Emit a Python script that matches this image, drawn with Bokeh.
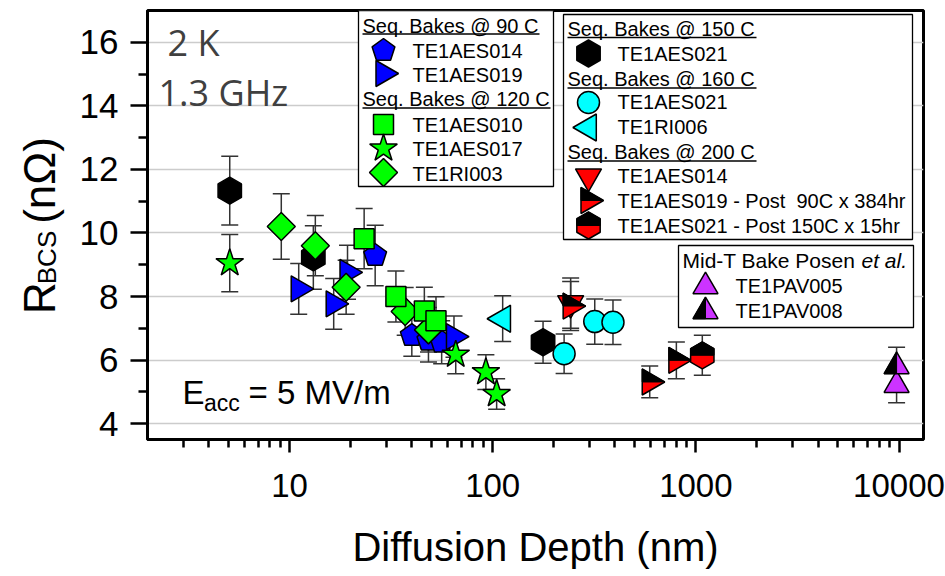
import math
from bokeh.plotting import figure
from bokeh.layouts import row
from bokeh.models import (Range1d, FixedTicker, CustomJSTickFormatter, Whisker, TeeHead,
                          ColumnDataSource, Label, BoxAnnotation)
from bokeh.embed import file_html
from bokeh.resources import INLINE

# ---------------- data ----------------
# Seq. Bakes @ 90 C
x_90_014 = [26.4, 40.0, 48.3, 56.1]
y_90_014 = [9.29, 6.77, 6.62, 6.56]
e_90_014 = [0.95, 0.65, 0.68, 0.68]

x_90_019 = [11.1, 16.5, 19.3, 64.5]
y_90_019 = [8.24, 7.77, 8.76, 6.74]
e_90_019 = [0.80, 0.80, 0.85, 0.65]

# Seq. Bakes @ 120 C
x_120_010 = [23.3, 33.4, 46.1, 52.6]
y_120_010 = [9.82, 8.00, 7.54, 7.24]
e_120_010 = [0.95, 0.80, 0.75, 0.75]

x_120_017 = [5.08, 65.8, 92.6, 104.6]
y_120_017 = [9.05, 6.17, 5.62, 4.93]
e_120_017 = [0.90, 0.60, 0.55, 0.48]

x_120_ri003 = [9.11, 13.4, 19.0, 37.1, 48.3]
y_120_ri003 = [10.20, 9.60, 8.29, 7.53, 6.95]
e_120_ri003 = [1.03, 0.95, 0.85, 0.75, 0.70]

# Seq. Bakes @ 150 C
x_150_021 = [5.08, 13.1, 177.0]
y_150_021 = [11.33, 9.23, 6.56]
e_150_021 = [1.08, 1.00, 0.66]

# Seq. Bakes @ 160 C
x_160_021 = [224.7, 318.0, 391.0]
y_160_021 = [6.20, 7.21, 7.19]
e_160_021 = [0.62, 0.71, 0.70]

x_160_ri006 = [112.0]
y_160_ri006 = [7.30]
e_160_ri006 = [0.72]

# Seq. Bakes @ 200 C
x_200_014 = [242.0]
y_200_014 = [7.79]
e_200_014 = [0.79]

x_200_019 = [242.0, 593.0, 802.0]
y_200_019 = [7.70, 5.31, 5.99]
e_200_019 = [0.77, 0.50, 0.58]

x_200_021 = [1076.0]
y_200_021 = [6.15]
e_200_021 = [0.63]

# Mid-T bake (Posen et al.)
x_pav005 = [9730.0]
y_pav005 = [5.21]
e_pav005 = [0.55]

x_pav008 = [9730.0]
y_pav008 = [5.80]
e_pav008 = [0.60]

y_ticks = [4, 6, 8, 10, 12, 14, 16]
y_minor = [5, 7, 9, 11, 13, 15]
x_ticks = [10, 100, 1000, 10000]
x_minor = [m * d for d in (1, 10, 100, 1000) for m in range(3 if d == 1 else 2, 10)]

# ---------------- geometry (page pixels) ----------------
TOTAL_W, TOTAL_H = 945, 576
LW = 70                                   # width of the strip holding the y title
FL, FR, FT, FB = 147, 923, 10, 439        # frame edges
XMIN, XMAX = 2.0, 13200.0
YMIN, YMAX = 3.5, 17.0
LXMIN = math.log10(XMIN)
PPD = (FR - FL) / (math.log10(XMAX) - LXMIN)   # px per decade
PPU = (FB - FT) / (YMAX - YMIN)                 # px per unit


def dx(px):
    return 10 ** (LXMIN + (px - FL) / PPD)


def dy(py):
    return YMIN + (FB - py) / PPU


FONT = "Liberation Sans"

p = figure(width=TOTAL_W - LW, height=TOTAL_H, x_axis_type="log",
           x_range=Range1d(XMIN, XMAX), y_range=Range1d(YMIN, YMAX),
           output_backend="svg", toolbar_location=None,
           min_border_left=FL - LW, min_border_right=TOTAL_W - FR,
           min_border_top=FT, min_border_bottom=TOTAL_H - FB)
p.title.visible = False
p.background_fill_color = "white"
p.border_fill_color = "white"
p.outline_line_color = "black"
p.outline_line_width = 3
p.outline_line_alpha = 1.0

ax = p.xaxis[0]
ay = p.yaxis[0]
for a in (ax, ay):
    a.axis_line_width = 3
    a.axis_line_color = "black"
    a.major_tick_line_width = 2.5
    a.minor_tick_line_width = 2.5
    a.major_tick_line_color = "black"
    a.minor_tick_line_color = "black"
    a.major_tick_in = 0
    a.minor_tick_in = 0
    a.major_label_text_font = FONT
    a.major_label_text_color = "black"
ax.major_label_text_font_size = "33px"
ay.major_label_text_font_size = "35px"
ax.major_tick_out = 13
ax.minor_tick_out = 8
ay.major_tick_out = 17
ay.minor_tick_out = 9
ax.major_label_standoff = 21
ay.major_label_standoff = 12
ax.ticker = FixedTicker(ticks=x_ticks, minor_ticks=x_minor)
ay.ticker = FixedTicker(ticks=y_ticks, minor_ticks=y_minor)
ax.formatter = CustomJSTickFormatter(code="return String(Math.round(tick));")
ax.axis_label = "Diffusion Depth (nm)"
ax.axis_label_text_font = FONT
ax.axis_label_text_font_size = "40px"
ax.axis_label_text_font_style = "normal"
ax.axis_label_text_color = "black"
ax.axis_label_standoff = 25
p.xgrid.visible = False
p.ygrid.ticker = FixedTicker(ticks=y_ticks)
p.ygrid.grid_line_color = "#cccccc"
p.ygrid.grid_line_width = 1.5

# ---------------- marker shapes (pixel offsets, y up) ----------------
S3 = math.sqrt(3)


def reg(n, R, start):
    return [(R * math.cos(math.radians(start + 360.0 * k / n)),
             R * math.sin(math.radians(start + 360.0 * k / n))) for k in range(n)]


def tri(s, direction):
    h = s * S3 / 2
    base = [(-s / 2, -h / 3), (s / 2, -h / 3), (0, 2 * h / 3)]   # up
    rot = {"u": 0, "d": 180, "l": 90, "r": -90}[direction]
    c, sn = math.cos(math.radians(rot)), math.sin(math.radians(rot))
    return [(x * c - y * sn, x * sn + y * c) for x, y in base]


HEX_R = 13.5
HEX_C = HEX_R * math.cos(math.radians(30))
TR_S = 26.0
TR_H = TR_S * S3 / 2
TU_S = 25.0
TU_H = TU_S * S3 / 2

SHAPES = {
    "pent": reg(5, 12.0, 90),
    "hex": reg(6, HEX_R, 90),
    "diamond": [(0, 14), (14, 0), (0, -14), (-14, 0)],
    "tri_r": tri(TR_S, "r"),
    "tri_l": tri(27.0, "l"),
    "tri_d": tri(TR_S, "d"),
    "tri_u": tri(TU_S, "u"),
    "hex_top": [(-HEX_C, 0), (-HEX_C, HEX_R / 2), (0, HEX_R), (HEX_C, HEX_R / 2), (HEX_C, 0)],
    "tri_r_top": [(-TR_H / 3, TR_S / 2), (2 * TR_H / 3, 0), (-TR_H / 3, 0)],
    "tri_u_left": [(-TU_S / 2, -TU_H / 3), (0, -TU_H / 3), (0, 2 * TU_H / 3)],
}


def add_shape(kind, xs, ys, fill, level="glyph", lw=1.5):
    pts = SHAPES[kind]
    pxs = [[x * 10 ** (ox / PPD) for ox, oy in pts] for x in xs]
    pys = [[y + oy / PPU for ox, oy in pts] for y in ys]
    p.patches(pxs, pys, fill_color=fill, line_color="black", line_width=lw, level=level)


def add_marker(kind, xs, ys, fill, level="glyph"):
    if kind in ("circle", "square", "star"):
        size = {"circle": 22, "square": 20, "star": 29}[kind]
        p.scatter(xs, ys, marker=kind, size=size, fill_color=fill, line_color="black",
                  line_width=1.5, level=level)
    elif kind == "half_tri_r":
        add_shape("tri_r", xs, ys, "#ff0000", level)
        add_shape("tri_r_top", xs, ys, "black", level, lw=1)
    elif kind == "half_hex":
        add_shape("hex", xs, ys, "#ff0000", level)
        add_shape("hex_top", xs, ys, "black", level, lw=1)
    elif kind == "half_tri_u":
        add_shape("tri_u", xs, ys, "#cc33ff", level)
        add_shape("tri_u_left", xs, ys, "black", level, lw=1)
    else:
        add_shape(kind, xs, ys, fill, level)


BLUE, GREEN, CYAN, RED, PURPLE = "#0000ff", "#00ff00", "#00ffff", "#ff0000", "#cc33ff"

series = [
    ("hex", x_150_021, y_150_021, e_150_021, "black"),
    ("pent", x_90_014, y_90_014, e_90_014, BLUE),
    ("tri_r", x_90_019, y_90_019, e_90_019, BLUE),
    ("diamond", x_120_ri003, y_120_ri003, e_120_ri003, GREEN),
    ("square", x_120_010, y_120_010, e_120_010, GREEN),
    ("star", x_120_017, y_120_017, e_120_017, GREEN),
    ("tri_l", x_160_ri006, y_160_ri006, e_160_ri006, CYAN),
    ("circle", x_160_021, y_160_021, e_160_021, CYAN),
    ("tri_d", x_200_014, y_200_014, e_200_014, RED),
    ("half_tri_r", x_200_019, y_200_019, e_200_019, RED),
    ("half_hex", x_200_021, y_200_021, e_200_021, RED),
    ("tri_u", x_pav005, y_pav005, e_pav005, PURPLE),
    ("half_tri_u", x_pav008, y_pav008, e_pav008, PURPLE),
]

EB = "#333333"
for kind, xs, ys, es, col in series:
    src = ColumnDataSource(dict(x=xs, up=[y + e for y, e in zip(ys, es)],
                                lo=[y - e for y, e in zip(ys, es)]))
    w = Whisker(source=src, base="x", upper="up", lower="lo", dimension="height",
                line_color=EB, line_width=1.5, level="underlay",
                upper_head=TeeHead(size=17, line_color=EB, line_width=1.5),
                lower_head=TeeHead(size=17, line_color=EB, line_width=1.5))
    p.add_layout(w)

for kind, xs, ys, es, col in series:
    add_marker(kind, xs, ys, col)


# ---------------- text helpers (y given as the text's vertical middle) ----------------
def txt(px, py, s, size, font=FONT, color="black", align="left", style="normal"):
    p.add_layout(Label(x=dx(px), y=dy(py), text=s, text_font=font,
                       text_font_size=f"{size}px", text_color=color, text_align=align,
                       text_baseline="middle", text_font_style=style))


def box(l, r, t, b):
    p.add_layout(BoxAnnotation(left=dx(l), right=dx(r), top=dy(t), bottom=dy(b),
                               fill_color="white", fill_alpha=1.0, line_color="black",
                               line_width=1.3, line_alpha=1.0))


def underline(x0, x1, py):
    p.segment(x0=[dx(x0)], y0=[dy(py)], x1=[dx(x1)], y1=[dy(py)], line_color="black",
              line_width=1.5, level="overlay")


def entry(mx, my, tx, ty, kind, fill, label):
    add_marker(kind, [dx(mx)], [dy(my)], fill, level="overlay")
    txt(tx, ty, label, 20)


NB = "\u00a0"

# legend box 1
box(358, 553, 10, 186)
txt(362, 25, "Seq. Bakes @ 90 C", 20)
underline(362, 539, 33.5)
entry(383, 50, 412, 50, "pent", BLUE, "TE1AES014")
entry(383, 73, 412, 74, "tri_r", BLUE, "TE1AES019")
txt(362, 98.5, "Seq. Bakes @ 120 C", 20)
underline(362, 550, 107.5)
entry(383, 124, 412, 124.5, "square", GREEN, "TE1AES010")
entry(383, 148, 412, 148.5, "star", GREEN, "TE1AES017")
entry(383, 172, 412, 173.5, "diamond", GREEN, "TE1RI003")

# legend box 2
box(563, 912, 14, 239)
txt(567, 28.5, "Seq. Bakes @ 150 C", 20)
underline(567, 756, 37)
entry(588, 53, 617, 53.5, "hex", "black", "TE1AES021")
txt(567, 78.5, "Seq. Bakes @ 160 C", 20)
underline(567, 756, 87.5)
entry(588, 102, 617, 101.5, "circle", CYAN, "TE1AES021")
entry(588, 127, 617, 126.5, "tri_l", CYAN, "TE1RI006")
txt(567, 151.5, "Seq. Bakes @ 200 C", 20)
underline(567, 756, 160.5)
entry(588, 176, 617, 175.5, "tri_d", RED, "TE1AES014")
entry(588, 200, 617, 200, "half_tri_r", RED, "TE1AES019 - Post" + NB + " 90C x 384hr")
entry(588, 225, 617, 225, "half_hex", RED, "TE1AES021 - Post 150C x 15hr")

# legend box 3
box(678, 913, 245, 327)
txt(682, 259.5, "Mid-T Bake Posen", 21)
txt(861, 259.5, "et al.", 21, style="italic")
entry(705, 286, 735, 285.5, "tri_u", PURPLE, "TE1PAV005")
entry(705, 311, 735, 310.5, "half_tri_u", PURPLE, "TE1PAV008")

# annotations in the plot
txt(167, 41.5, "2 K", 36, font="Open Sans", color="#404040")
txt(158, 92, "1.3 GHz", 36, font="Open Sans", color="#404040")
txt(182, 391.5, "E", 33)
txt(203.5, 402.8, "acc", 23)
txt(248, 391.5, "= 5 MV/m", 33)

# ---------------- strip on the left holding the y-axis title ----------------
# its frame shares the vertical extent of the main frame (rows align frames)
t = figure(width=LW, height=TOTAL_H, x_range=Range1d(0, LW), y_range=Range1d(YMIN, YMAX),
           output_backend="svg", toolbar_location=None,
           x_axis_location=None, y_axis_location=None,
           min_border_left=0, min_border_right=0, min_border_top=FT,
           min_border_bottom=TOTAL_H - FB)
t.title.visible = False
t.xgrid.visible = False
t.ygrid.visible = False
t.outline_line_color = None
t.background_fill_color = "white"
t.border_fill_color = "white"


def vtxt(px, py, s, size):
    # (px, py): page position of the centre of the rotated text
    t.add_layout(Label(x=px, y=dy(py), text=s, text_font=FONT,
                       text_font_size=f"{size}px", text_color="black", text_align="center",
                       text_baseline="middle", angle=math.pi / 2))


vtxt(39, 297.5, "R", 44)
vtxt(46, 257, "BCS", 26)
vtxt(39, 180, "(n\u03a9)", 44)

layout = row(t, p)
open("out.html", "w").write(file_html(layout, INLINE))
